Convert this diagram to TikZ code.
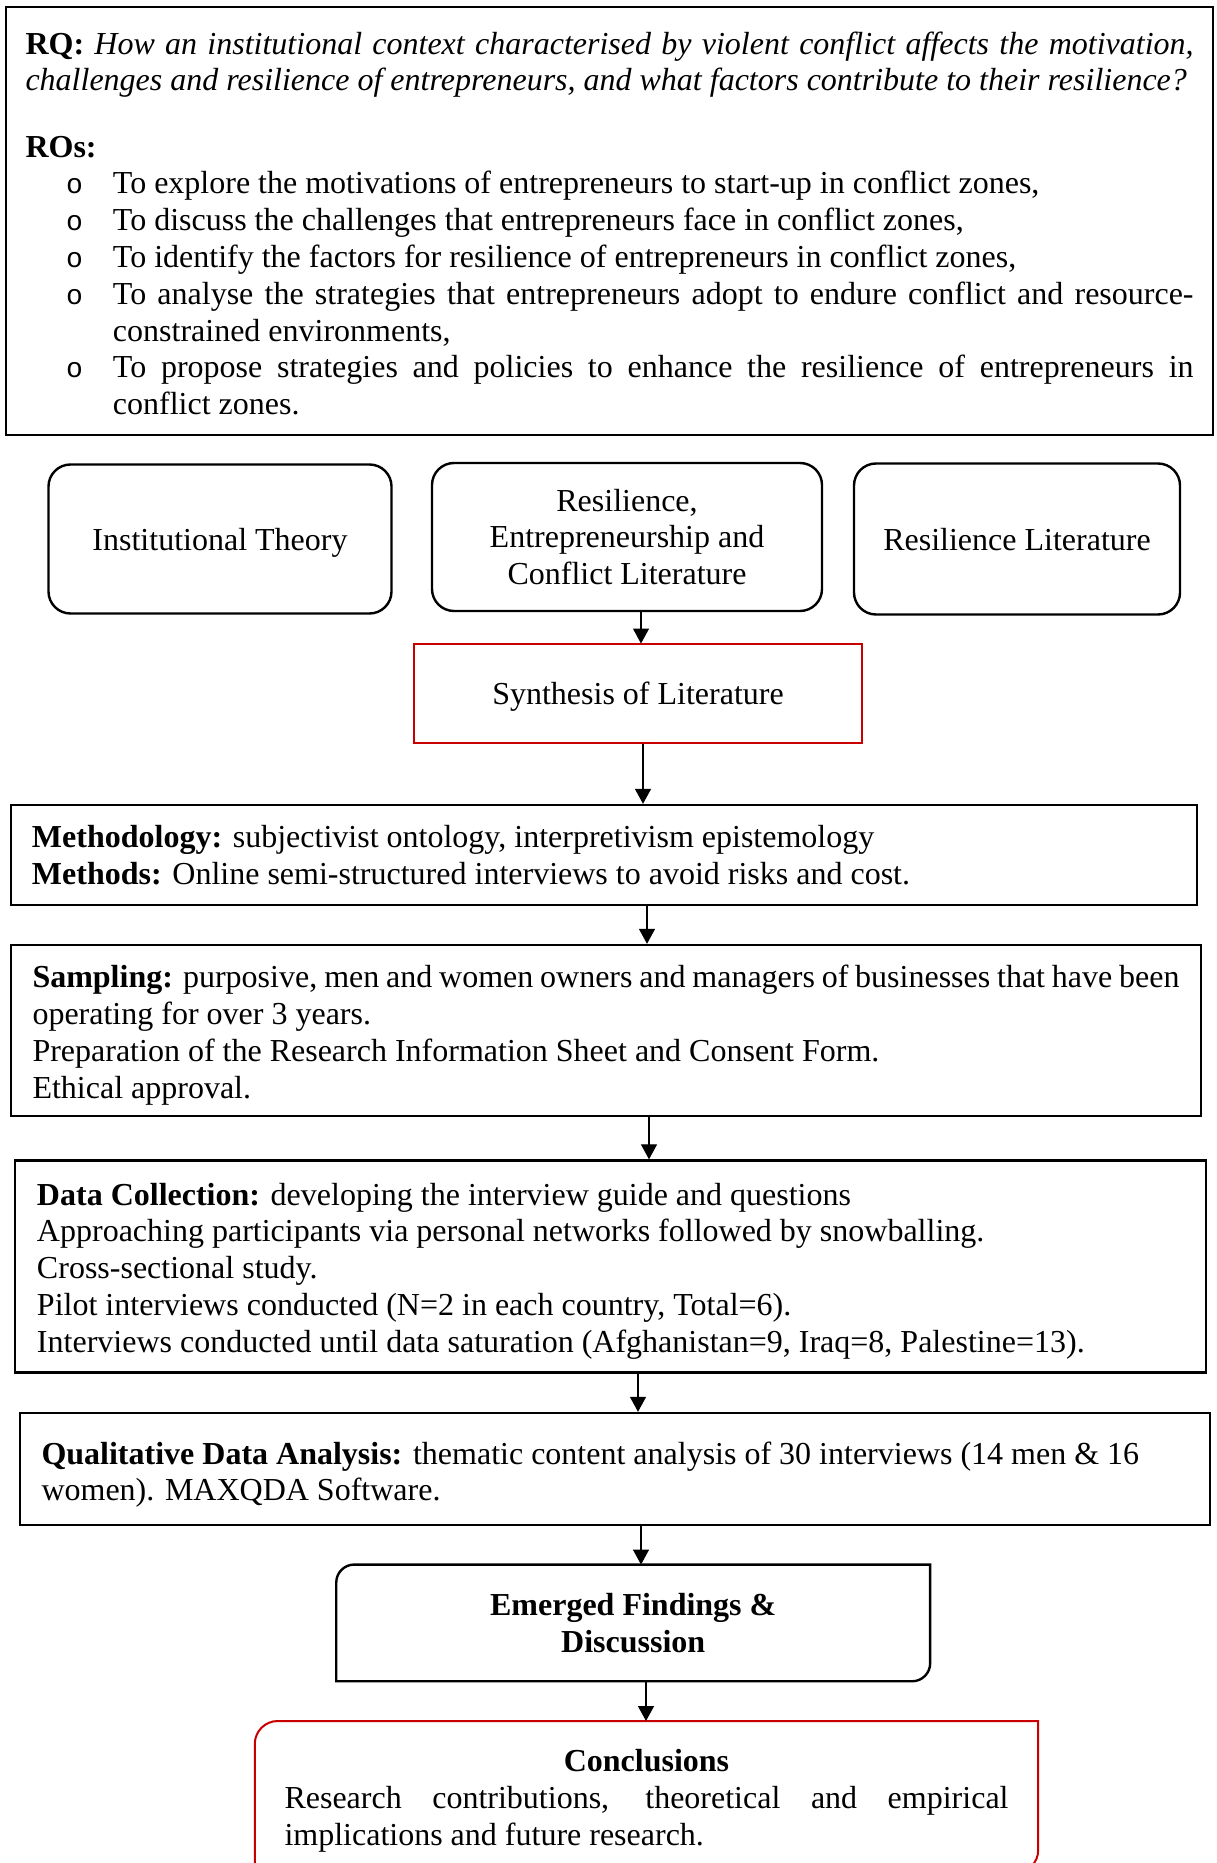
\documentclass[tikz,border=0pt]{standalone}
\usepackage{fontspec}
\setmainfont{Liberation Serif}
\setmonofont{Liberation Mono}
\usetikzlibrary{arrows.meta,calc,positioning}
\newdimen\pxu \pxu=0.375pt
\definecolor{boxred}{RGB}{200,0,0}
\setlength{\parindent}{0pt}
\tikzset{box/.style={draw,line width=0.9pt,align=justify,inner ysep=0pt,font=\fontsize{12pt}{13.8pt}\selectfont},
  rbox/.style={box,rounded corners=8.25pt,align=center},
  redbox/.style={box,draw=boxred,line width=0.75pt,align=center},
  low/.style={text depth=0pt},
  frame/.style={line width=0.9pt},
  redframe/.style={line width=0.75pt,draw=boxred},
  arr/.style={-{Triangle[length=5.6pt,width=6pt]},line width=0.4pt}}
\newcommand{\roitem}[1]{\par\hangindent=32.8pt\hangafter=1\makebox[32.8pt][l]{\hspace*{15.2pt}{\ttfamily\fontsize{10.5pt}{12pt}\selectfont o}}#1\par}

\begin{document}
\begin{tikzpicture}[x=0.375pt,y=-0.375pt]
\useasboundingbox (0,0) rectangle (1216,1863);
\clip (0,0) rectangle (1216,1863);
% research question and objectives
\node[box,text width=1168\pxu,inner xsep=19.5\pxu,minimum height=428\pxu] (rq) at (609.5,221)
  {\rule{0pt}{10.2pt}\textbf{RQ:} \textit{How an institutional context characterised by violent conflict affects the motivation,\linebreak challenges and resilience of entrepreneurs, and what factors contribute to their resilience?}\par\vskip 11pt
   \textbf{ROs:}
   \roitem{To explore the motivations of entrepreneurs to start-up in conflict zones,}
   \roitem{To discuss the challenges that entrepreneurs face in conflict zones,}
   \roitem{To identify the factors for resilience of entrepreneurs in conflict zones,}
   \roitem{To analyse the strategies that entrepreneurs adopt to endure conflict and resource-\linebreak constrained environments,}
   \roitem{To propose strategies and policies to enhance the resilience of entrepreneurs in\linebreak conflict zones.}};
% literature
\node[rbox,low,minimum width=343\pxu,minimum height=149\pxu] (inst) at (220,539) {Institutional Theory};
\node[rbox,minimum width=390\pxu,minimum height=148\pxu] (lit) at (627,537) {Resilience,\\Entrepreneurship and\\Conflict Literature};
\node[rbox,low,minimum width=326\pxu,minimum height=151\pxu] (rlit) at (1017,539) {Resilience Literature};
\node[redbox,low,minimum width=448\pxu,minimum height=98\pxu] (syn) at (638,693.5) {Synthesis of Literature};
% method steps
\node[box,text width=1144\pxu,inner xsep=21\pxu,minimum height=100\pxu] (meth) at (604,855)
  {\textbf{Methodology:} subjectivist ontology, interpretivism epistemology\newline
   \textbf{Methods:} Online semi-structured interviews to avoid risks and cost.};
\node[box,text width=1147\pxu,inner xsep=21.5\pxu,minimum height=171\pxu] (samp) at (606,1030.5)
  {\rule{0pt}{11.8pt}\textbf{Sampling:} purposive, men and women owners and managers of businesses that have been\linebreak
   operating for over 3 years.\newline
   Preparation of the Research Information Sheet and Consent Form.\newline
   Ethical approval.};
\node[box,text width=1147\pxu,inner xsep=22\pxu,minimum height=212\pxu] (data) at (610.5,1266.5)
  {\rule{0pt}{11.8pt}\textbf{Data Collection:} developing the interview guide and questions\newline
   Approaching participants via personal networks followed by snowballing.\newline
   Cross-sectional study.\newline
   Pilot interviews conducted (N=2 in each country, Total=6).\newline
   Interviews conducted until data saturation (Afghanistan=9, Iraq=8, Palestine=13).};
\node[box,text width=1147\pxu,inner xsep=21.5\pxu,minimum height=112\pxu] (qda) at (615,1469)
  {\rule{0pt}{12.6pt}\textbf{Qualitative Data Analysis:} thematic content analysis of 30 interviews (14 men \& 16\newline
   women). MAXQDA Software.};
% findings and conclusions
\node[box,draw=none,align=center,minimum width=591.5\pxu,minimum height=114.3\pxu,font=\fontsize{12pt}{13.8pt}\selectfont\bfseries] (emf) at (633.2,1622.9)
  {Emerged Findings \&\\Discussion};
\draw[frame] ([yshift=-6.75pt]emf.north west) arc[start angle=180,end angle=90,radius=6.75pt]
  -- (emf.north east) -- ([yshift=6.75pt]emf.south east) arc[start angle=0,end angle=-90,radius=6.75pt]
  -- (emf.south west) -- cycle;
\node[box,draw=none,anchor=north,text width=724\pxu,inner xsep=28.5\pxu,inner ysep=27\pxu] (conc) at (646.5,1721)
  {{\centering\textbf{Conclusions}\par}
   Research contributions, theoretical and empirical\linebreak implications and future research.};
\draw[redframe] ([yshift=-8.6pt]conc.north west) arc[start angle=180,end angle=90,radius=8.6pt]
  -- (conc.north east) -- (conc.east |- 0,1850) arc[start angle=0,end angle=-90,radius=8.6pt]
  -- (conc.west |- 0,1873) -- cycle;
% connectors
\foreach \a/\b/\x in {lit/syn/641,syn/meth/643,meth/samp/647,samp/data/649,data/qda/638,qda/emf/641,emf/conc/646}
  \draw[arr] (\a.south -| \x,0) -- (\b.north -| \x,0);
\end{tikzpicture}
\end{document}
